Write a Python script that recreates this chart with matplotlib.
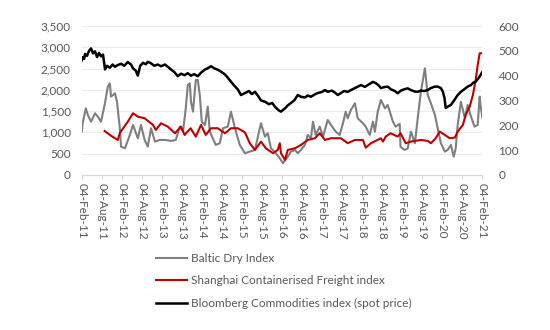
import numpy as np
import matplotlib.pyplot as plt

# dates given as decimal years
bdi_t = [2011.09, 2011.11, 2011.19, 2011.24, 2011.32, 2011.42, 2011.49, 2011.57, 2011.66, 2011.74,
         2011.79, 2011.82, 2011.92, 2011.97, 2012.04, 2012.07, 2012.17, 2012.29, 2012.37, 2012.49,
         2012.57, 2012.66, 2012.74, 2012.82, 2012.92, 2013.04, 2013.17, 2013.32, 2013.44, 2013.54,
         2013.62, 2013.69, 2013.74, 2013.79, 2013.82, 2013.87, 2013.94, 2013.99, 2014.04, 2014.09,
         2014.17, 2014.24, 2014.29, 2014.44, 2014.54, 2014.62, 2014.74, 2014.82, 2014.92, 2015.04,
         2015.17, 2015.29, 2015.42, 2015.54, 2015.57, 2015.67, 2015.74, 2015.82, 2015.94, 2016.04,
         2016.12, 2016.24, 2016.32, 2016.42, 2016.49, 2016.57, 2016.67, 2016.74, 2016.82, 2016.87,
         2016.94, 2017.04, 2017.12, 2017.24, 2017.32, 2017.44, 2017.54, 2017.62, 2017.69, 2017.74,
         2017.82, 2017.92, 2017.99, 2018.12, 2018.19, 2018.29, 2018.37, 2018.42, 2018.49, 2018.57,
         2018.67, 2018.74, 2018.87, 2018.94, 2019.04, 2019.06, 2019.16, 2019.24, 2019.32, 2019.42,
         2019.49, 2019.57, 2019.67, 2019.74, 2019.82, 2019.92, 2019.99, 2020.07, 2020.17, 2020.24,
         2020.32, 2020.39, 2020.44, 2020.49, 2020.57, 2020.67, 2020.74, 2020.81, 2020.91, 2020.99,
         2021.04, 2021.06, 2021.11]
bdi_v = [1018, 1214, 1566, 1410, 1252, 1449, 1370, 1252, 1644, 2074,
         2154, 1840, 1919, 1722, 1097, 665, 627, 940, 1175, 862,
         1175, 822, 665, 1097, 783, 822, 822, 800, 822, 1135,
         1018, 1566, 2113, 2154, 1722, 1487, 2231, 2231, 1880, 1252,
         1175, 1605, 1018, 705, 745, 1097, 1135, 1487, 1097, 705,
         510, 547, 587, 1097, 1214, 900, 980, 627, 510, 392,
         275, 430, 547, 587, 510, 587, 705, 940, 860, 1252,
         940, 1135, 900, 1292, 1175, 1018, 940, 1214, 1487, 1332,
         1527, 1684, 1332, 1214, 1135, 940, 1252, 1018, 1487, 1762,
         1566, 1644, 1252, 1135, 1200, 665, 587, 620, 1018, 745,
         1332, 1957, 2506, 1880, 1684, 1410, 1097, 745, 547, 587,
         705, 430, 620, 1175, 1722, 1332, 1644, 1410, 1135, 1175,
         1840, 1644, 1332]

scfi_t = [2011.66, 2011.82, 2011.99, 2012.04, 2012.24, 2012.37, 2012.49, 2012.66, 2012.87, 2012.94,
          2013.07, 2013.24, 2013.42, 2013.57, 2013.66, 2013.81, 2013.94, 2014.07, 2014.19, 2014.32,
          2014.49, 2014.67, 2014.82, 2014.99, 2015.17, 2015.29, 2015.42, 2015.57, 2015.69, 2015.87,
          2015.99, 2016.04, 2016.07, 2016.17, 2016.24, 2016.42, 2016.57, 2016.74, 2016.92, 2017.04,
          2017.17, 2017.32, 2017.57, 2017.74, 2017.92, 2018.12, 2018.19, 2018.32, 2018.57, 2018.62,
          2018.69, 2018.81, 2018.99, 2019.06, 2019.19, 2019.32, 2019.57, 2019.74, 2019.82, 2019.94,
          2020.04, 2020.17, 2020.29, 2020.42, 2020.49, 2020.62, 2020.69, 2020.79, 2020.87, 2020.94,
          2020.99, 2021.04, 2021.11]
scfi_v = [1033, 920, 822, 987, 1252, 1449, 1370, 1332, 1175, 1057,
          1214, 1135, 980, 1135, 940, 1097, 900, 1175, 940, 1097,
          1097, 980, 1097, 1097, 1000, 745, 587, 783, 627, 510,
          587, 745, 510, 352, 587, 627, 705, 822, 862, 980,
          822, 862, 862, 745, 822, 822, 641, 745, 862, 783,
          900, 980, 900, 980, 745, 783, 822, 800, 745, 862,
          1018, 940, 862, 880, 1018, 1175, 1410, 1605, 1880, 2231,
          2584, 2860, 2860]

bcom_t = [2011.09, 2011.12, 2011.15, 2011.17, 2011.22, 2011.27, 2011.32, 2011.37, 2011.42, 2011.47,
          2011.52, 2011.57, 2011.62, 2011.67, 2011.72, 2011.79, 2011.86, 2011.92, 2011.99, 2012.07,
          2012.15, 2012.24, 2012.32, 2012.37, 2012.44, 2012.49, 2012.55, 2012.62, 2012.69, 2012.74,
          2012.82, 2012.90, 2012.99, 2013.07, 2013.17, 2013.24, 2013.32, 2013.40, 2013.49, 2013.57,
          2013.66, 2013.74, 2013.82, 2013.90, 2013.99, 2014.07, 2014.17, 2014.24, 2014.32, 2014.40,
          2014.49, 2014.57, 2014.67, 2014.74, 2014.82, 2014.90, 2014.99, 2015.07, 2015.17, 2015.27,
          2015.34, 2015.42, 2015.50, 2015.57, 2015.67, 2015.77, 2015.85, 2015.92, 2016.00, 2016.07,
          2016.17, 2016.24, 2016.32, 2016.40, 2016.49, 2016.57, 2016.67, 2016.74, 2016.82, 2016.92,
          2016.99, 2017.09, 2017.17, 2017.24, 2017.34, 2017.42, 2017.49, 2017.57, 2017.65, 2017.74,
          2017.82, 2017.92, 2017.99, 2018.07, 2018.17, 2018.27, 2018.37, 2018.44, 2018.52, 2018.57,
          2018.65, 2018.74, 2018.82, 2018.92, 2018.99, 2019.07, 2019.17, 2019.24, 2019.32, 2019.42,
          2019.49, 2019.57, 2019.65, 2019.74, 2019.82, 2019.92, 2019.99, 2020.07, 2020.12, 2020.16,
          2020.19, 2020.24, 2020.32, 2020.40, 2020.49, 2020.57, 2020.65, 2020.74, 2020.82, 2020.88,
          2020.94, 2021.01, 2021.06, 2021.11]
bcom_v = [462, 475, 468, 488, 480, 500, 510, 490, 498, 475,
          492, 478, 485, 425, 440, 432, 445, 436, 443, 448,
          440, 455, 445, 430, 420, 400, 440, 452, 446, 456,
          450, 440, 445, 438, 445, 436, 425, 415, 398, 408,
          402, 410, 400, 406, 398, 412, 425, 430, 438, 430,
          424, 416, 405, 392, 376, 360, 345, 322, 330, 338,
          326, 335, 318, 300, 295, 285, 290, 275, 262, 255,
          268, 280, 290, 300, 322, 315, 312, 320, 315, 325,
          330, 334, 342, 335, 340, 332, 322, 330, 338, 335,
          342, 350, 356, 362, 355, 365, 375, 370, 360, 350,
          354, 356, 345, 338, 329, 340, 346, 349, 342, 336,
          335, 340, 338, 342, 350, 356, 356, 350, 335, 310,
          270, 275, 282, 300, 322, 335, 345, 356, 362, 372,
          376, 390, 402, 416]

tick_years = np.arange(2011, 2021.5, 0.5)
tick_pos = [int(y) + (0.093 if y % 1 == 0 else 0.589) for y in tick_years]
tick_lab = [('04-Feb-' if y % 1 == 0 else '04-Aug-') + str(int(y))[2:] for y in tick_years]

plt.rcParams['font.family'] = ['Lato', 'DejaVu Sans']
txt = '#595959'

fig = plt.figure(figsize=(5.5, 3.3), dpi=100)
ax = fig.add_axes([0.149, 0.470, 0.727, 0.451])
ax2 = ax.twinx()

l1, = ax.plot(bdi_t, bdi_v, color='#7f7f7f', lw=1.5, label='Baltic Dry Index')
l2, = ax.plot(scfi_t, scfi_v, color='#c00000', lw=1.5, label='Shanghai Containerised Freight index')
l3, = ax2.plot(bcom_t, bcom_v, color='black', lw=1.8, label='Bloomberg Commodities index (spot price)')

ax.set_ylim(0, 3500)
ax.set_yticks(range(0, 3501, 500))
ax.set_yticklabels([f'{v:,}' for v in range(0, 3501, 500)])
ax2.set_ylim(0, 600)
ax2.set_yticks(range(0, 601, 100))
ax.set_xlim(tick_pos[0], tick_pos[-1])
ax.set_xticks(tick_pos)
ax.set_xticklabels(tick_lab, rotation=-90)

ax.grid(axis='y', color='#ececec', lw=0.8)
ax.set_axisbelow(True)
for a in (ax, ax2):
    for s in ['top', 'left', 'right']:
        a.spines[s].set_visible(False)
    a.spines['bottom'].set_color('#d9d9d9')
    a.tick_params(axis='y', length=0, labelsize=8.5, labelcolor=txt, pad=8)
ax.tick_params(axis='x', length=3, color='#d9d9d9', labelsize=8.5, labelcolor=txt, pad=3)
ax2.tick_params(axis='y', pad=12)

fig.legend(handles=[l1, l2, l3], loc='upper left', bbox_to_anchor=(0.265, 0.265),
           frameon=False, fontsize=8.5, handlelength=2.6, labelspacing=0.95,
           handletextpad=0.3, labelcolor=txt)

fig.savefig('out.png', dpi=100)
